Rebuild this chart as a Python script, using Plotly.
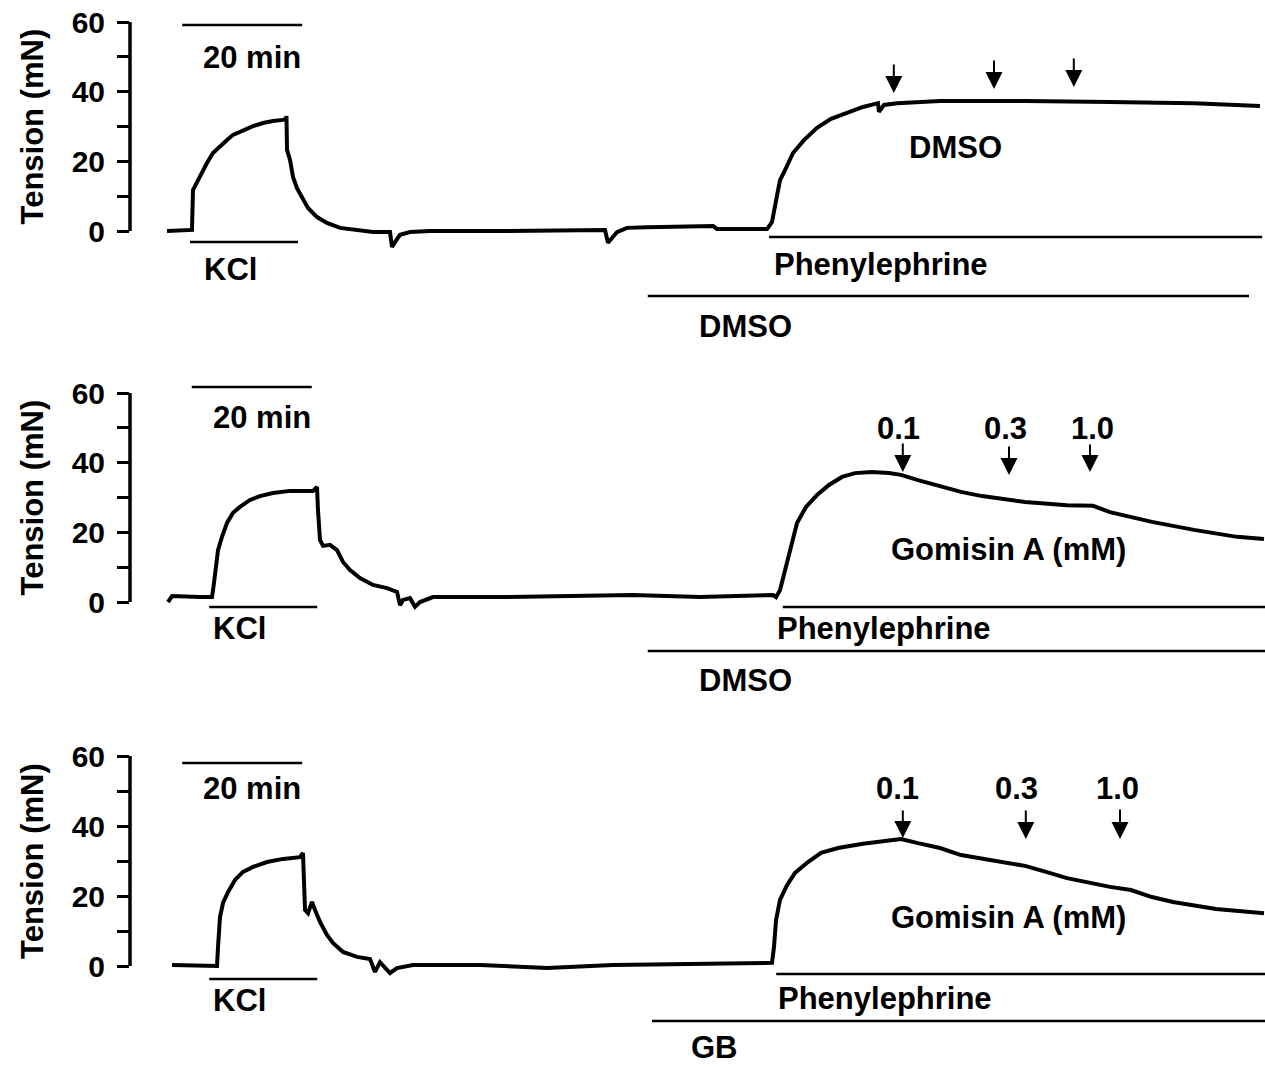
import plotly.graph_objects as go

W, H = 1265, 1067

# ---------------- data (time in min, tension in mN) ----------------
p1_time = [6.17, 10.33, 10.5, 11.17, 12.0, 12.83, 13.83, 15.0, 16.17, 17.17, 18.83, 20.5, 22.17,
           23.83, 25.5, 26.0, 26.08, 26.17, 26.67, 27.17, 27.83, 28.67, 29.67, 31.17, 32.83,
           35.0, 37.83, 40.5, 43.33, 43.67, 44.17, 45.0, 46.67, 50.0, 61.67, 79.17, 79.67,
           80.33, 81.17, 82.83, 86.17, 97.17, 97.83, 106.17, 106.33, 107.0, 107.67, 108.33,
           109.17, 110.5, 112.33, 114.5, 116.83, 119.33, 122.17, 124.67, 124.83, 125.67,
           127.83, 135.0, 149.17, 163.33, 177.33, 188.33]
p1_tension = [0, 0.3, 11.8, 14.1, 16.9, 19.5, 22.4, 24.4, 26.1, 27.6, 29.0, 30.1, 31.0,
              31.6, 31.9, 32.2, 33.0, 23.3, 20.4, 15.5, 12.3, 9.5, 6.6, 4.0, 2.3,
              0.9, 0.3, -0.3, -0.3, -4.6, -3.2, -1.1, -0.3, 0, 0, 0.3, -3.4,
              -2.0, -0.3, 0.9, 1.1, 1.4, 0.6, 0.6, 0.9, 2.6, 8.9, 14.6,
              17.5, 22.4, 26.1, 29.6, 32.2, 33.9, 35.6, 36.7, 34.2, 36.2,
              36.7, 37.3, 37.3, 37.0, 36.7, 35.9]

p2_time = [6.33, 7.0, 11.67, 13.67, 14.0, 14.33, 14.67, 15.33, 16.17, 17.17, 18.33, 20.0, 21.67,
           23.83, 26.67, 30.5, 31.17, 31.33, 31.67, 32.17, 33.33, 34.5, 35.5, 36.67, 38.33,
           40.5, 42.83, 44.5, 45.0, 45.5, 46.67, 47.5, 48.33, 50.5, 61.67, 83.83, 95.0,
           107.17, 107.67, 108.33, 109.17, 110.17, 111.17, 112.67, 114.5, 116.5, 118.67,
           120.83, 123.67, 126.5, 128.5, 131.33, 135.0, 138.5, 142.0, 145.5, 149.17, 156.17,
           160.5, 163.33, 170.33, 177.33, 184.5, 189.0]
p2_tension = [0, 1.7, 1.4, 1.4, 5.5, 11.2, 14.9, 18.7, 22.7, 25.6, 27.3, 29.3, 30.4,
              31.3, 31.9, 31.9, 33.0, 26.4, 17.8, 16.1, 16.4, 14.9, 11.5, 9.2, 6.9,
              4.9, 4.0, 2.9, -0.9, 0.6, 1.1, -1.4, 0, 1.4, 1.4, 2.0, 1.4,
              2.0, 1.4, 3.4, 9.2, 16.9, 22.7, 27.3, 30.7, 33.6, 35.9,
              37.0, 37.3, 37.0, 36.5, 35.0, 33.3, 31.6, 30.4, 29.6, 28.7, 27.8,
              27.6, 25.8, 23.0, 20.7, 18.7, 18.1]

p3_time = [7.0, 14.5, 14.67, 15.0, 15.5, 16.33, 17.5, 18.83, 20.5, 22.83, 25.5, 28.33, 28.83,
           28.92, 29.17, 29.67, 30.33, 30.83, 31.67, 32.83, 33.83, 35.5, 37.83, 40.0, 40.83,
           41.67, 43.33, 44.5, 47.17, 58.33, 69.5, 80.5, 107.0, 107.33, 107.67, 108.33,
           109.5, 110.83, 113.0, 115.17, 118.0, 122.17, 126.5, 128.5, 131.33, 135.0, 138.5,
           143.5, 149.17, 152.67, 156.17, 163.33, 166.83, 170.33, 173.83, 181.0, 189.0]
p3_tension = [0.3, 0, 5.4, 14.0, 18.0, 21.1, 24.6, 26.9, 28.3, 29.7, 30.6, 31.1, 32.3,
              24.6, 16.0, 15.1, 18.3, 16.0, 12.6, 8.9, 6.6, 4.0, 2.6, 2.0, -1.7,
              1.1, -2.0, -0.6, 0.3, 0.3, -0.6, 0.3, 0.9, 5.4, 13.1, 18.9,
              23.1, 26.6, 29.7, 32.3, 33.7, 34.9, 35.7, 36.3, 35.1, 33.7, 31.7,
              30.3, 28.6, 26.9, 25.1, 22.6, 21.7, 19.7, 18.3, 16.3, 15.1]

# treatment timings (min)
scale_start = [8.7, 10.3, 8.7]
kcl_on = [10.0, 13.2, 13.2]
kcl_off = [28.0, 31.2, 31.2]
phe_on = [106.5, 108.8, 107.7]
phe_off = [188.7, 189.2, 189.2]
veh_on = [86.3, 86.3, 87.0]
veh_off = [186.5, 189.2, 189.2]
veh_labels = ["DMSO", "DMSO", "GB"]
add_labels = ["DMSO", "Gomisin A (mM)", "Gomisin A (mM)"]
arrow_times = [[127.3, 144.0, 157.3], [128.8, 146.5, 160.0], [128.8, 149.3, 165.0]]
conc_labels = [["", "", ""], ["0.1", "0.3", "1.0"], ["0.1", "0.3", "1.0"]]
y_ticks = [0, 10, 20, 30, 40, 50, 60]
y_ticktext = ["0", "", "20", "", "40", "", "60"]

times = [p1_time, p2_time, p3_time]
tensions = [p1_tension, p2_tension, p3_tension]

# ---------------- layout geometry (pixels) ----------------
AX = 130            # y-axis position
PXMIN = 6.0         # pixels per minute
Y0 = [231, 602, 966]      # pixel of 0 mN
Y60 = [22, 393, 756]      # pixel of 60 mN
YMIN, YMAX = -8, 62

FONT = "Liberation Sans, Arial, sans-serif"
BOLD = dict(family=FONT, size=31, color="black", weight="bold")


def py(p):
    return 1 - p / H


def px(p):
    return p / W


fig = go.Figure()
shapes, annos = [], []
layout = dict(width=W, height=H, margin=dict(l=0, r=0, t=0, b=0, pad=0, autoexpand=False),
              paper_bgcolor="white", plot_bgcolor="white", showlegend=False)

for i in range(3):
    n = "" if i == 0 else str(i + 1)
    xa, ya = "x" + n, "y" + n
    scale = (Y0[i] - Y60[i]) / 60.0
    top = Y0[i] - YMAX * scale
    bot = Y0[i] - YMIN * scale
    layout["xaxis" + n] = dict(domain=[AX / W, 1], range=[0, (W - AX) / PXMIN],
                               visible=False, anchor=ya, automargin=False)
    layout["yaxis" + n] = dict(domain=[py(bot), py(top)], range=[YMIN, YMAX], anchor=xa,
                               showline=False, showgrid=False, zeroline=False, automargin=False,
                               ticks="outside", ticklen=12, tickwidth=3, tickcolor="black",
                               tickvals=y_ticks, ticktext=y_ticktext, ticklabelstandoff=6,
                               tickfont=dict(family=FONT, size=30, color="black", weight="bold"))
    fig.add_trace(go.Scatter(x=times[i], y=tensions[i], mode="lines", xaxis=xa, yaxis=ya,
                             line=dict(color="black", width=4), hoverinfo="skip"))
    # spine
    shapes.append(dict(type="line", xref="paper", yref=ya, x0=AX / W, x1=AX / W, y0=0, y1=60,
                       line=dict(color="black", width=3.5)))
    # axis title
    annos.append(dict(text="Tension (mN)", xref="paper", yref="paper", x=px(32),
                      y=py((Y0[i] + Y60[i]) / 2), textangle=-90, showarrow=False,
                      font=BOLD, xanchor="center", yanchor="middle"))


def hbar(xa, t0, t1, ypx):
    shapes.append(dict(type="line", xref=xa, yref="paper", x0=t0, x1=t1, y0=py(ypx), y1=py(ypx),
                       line=dict(color="black", width=2.5)))


def label(text, xpx, ypx):
    annos.append(dict(text=text, xref="paper", yref="paper", x=px(xpx), y=py(ypx),
                      showarrow=False, font=BOLD, xanchor="center", yanchor="middle"))


scale_y = [25, 387, 763]
kcl_y = [242, 607, 979]
phe_y = [237, 607, 974]
veh_y = [296, 651, 1021]
scale_lbl = [(252, 57), (262, 418), (252, 788)]
kcl_lbl = [(230, 269), (239, 628), (239, 1000)]
phe_lbl = [(881, 264), (884, 628), (885, 998)]
veh_lbl = [(745, 327), (745, 680), (714, 1047)]
add_lbl = [(955, 147), (1009, 550), (1009, 917)]
conc_lbl_x = [[0, 0, 0], [898, 1005, 1092], [897, 1016, 1117]]
conc_lbl_y = [0, 428, 788]
arrow_px = [[(63, 93), (59, 89), (57, 87)],
            [(442, 472), (445, 475), (443, 472)],
            [(809, 838), (809, 839), (808, 839)]]

for i in range(3):
    xa = "x" if i == 0 else "x" + str(i + 1)
    hbar(xa, scale_start[i], scale_start[i] + 20, scale_y[i])
    label("20 min", *scale_lbl[i])
    hbar(xa, kcl_on[i], kcl_off[i], kcl_y[i])
    label("KCl", *kcl_lbl[i])
    hbar(xa, phe_on[i], phe_off[i], phe_y[i])
    label("Phenylephrine", *phe_lbl[i])
    hbar(xa, veh_on[i], veh_off[i], veh_y[i])
    label(veh_labels[i], *veh_lbl[i])
    label(add_labels[i], *add_lbl[i])
    for k, t in enumerate(arrow_times[i]):
        tail, tip = arrow_px[i][k]
        annos.append(dict(text="", xref=xa, yref="paper", x=t, y=py(tip), ax=0, ay=-(tip - tail),
                          showarrow=True, arrowhead=2, arrowsize=1.7, arrowwidth=2,
                          arrowcolor="black"))
        if conc_labels[i][k]:
            label(conc_labels[i][k], conc_lbl_x[i][k], conc_lbl_y[i])

layout["shapes"] = shapes
layout["annotations"] = annos
fig.update_layout(**layout)
fig.write_html("out.html")
